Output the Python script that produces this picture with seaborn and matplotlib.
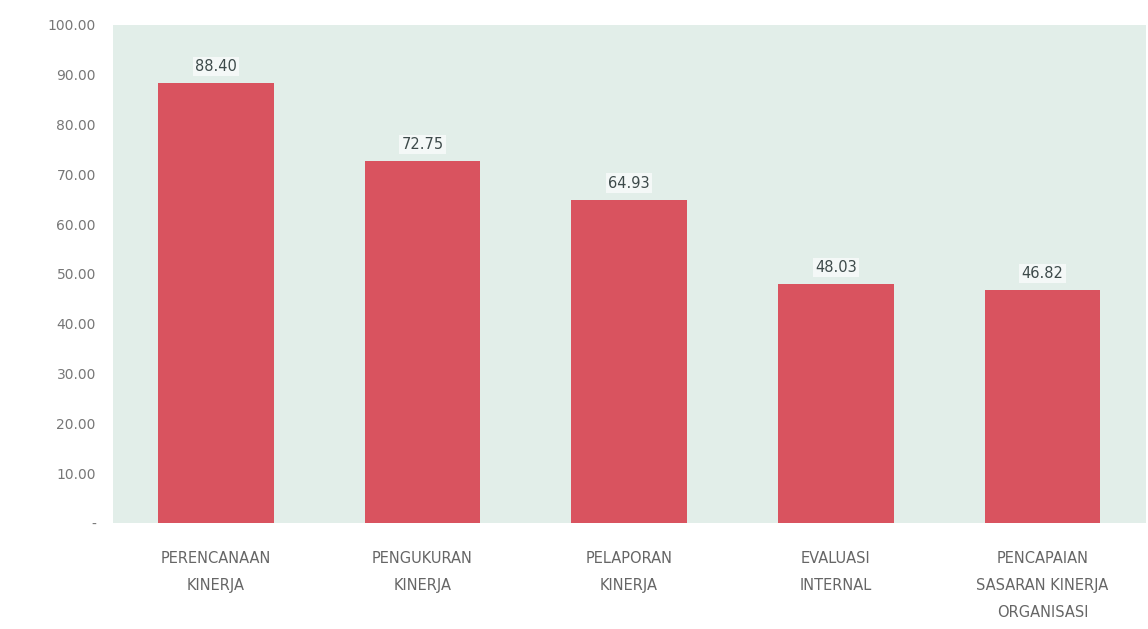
import pandas as pd
import seaborn as sns
import matplotlib.pyplot as plt
from matplotlib.ticker import FuncFormatter

sns.set_style('white')
plt.rcParams['font.family'] = ['DejaVu Sans']

kategori = ['PERENCANAAN\nKINERJA', 'PENGUKURAN\nKINERJA', 'PELAPORAN\nKINERJA',
            'EVALUASI\nINTERNAL', 'PENCAPAIAN\nSASARAN KINERJA\nORGANISASI']
nilai = [88.40, 72.75, 64.93, 48.03, 46.82]
yticks = [0, 10, 20, 30, 40, 50, 60, 70, 80, 90, 100]

df = pd.DataFrame({'kategori': kategori, 'nilai': nilai})

fig = plt.figure(figsize=(11.48, 6.29), dpi=100)
ax = fig.add_axes([0.098, 1 - 523 / 629, 0.9, (523 - 25) / 629])
ax.set_facecolor('#e2eee9')

sns.barplot(data=df, x='kategori', y='nilai', color='#d9535f', saturation=1,
            width=0.56, linewidth=0, ax=ax)

for i, v in enumerate(nilai):
    ax.text(i, v + 1.8, f'{v:.2f}', ha='center', va='bottom', fontsize=10.5,
            color='#3d4a4a',
            bbox=dict(boxstyle='square,pad=0.15', fc='#f4f8f7', ec='none'))

ax.set_ylim(0, 100)
ax.set_xlim(-0.5, 4.5)
ax.set_yticks(yticks)
ax.yaxis.set_major_formatter(FuncFormatter(lambda v, p: '-' if v == 0 else f'{v:.2f}'))
ax.tick_params(axis='y', labelsize=10, labelcolor='#777777', length=0, pad=12)
ax.tick_params(axis='x', labelsize=10.5, labelcolor='#666666', length=0, pad=20)
for t in ax.get_xticklabels():
    t.set_linespacing(2.0)
ax.set_xlabel('')
ax.set_ylabel('')
for s in ax.spines.values():
    s.set_visible(False)

plt.savefig('out.png', dpi=100)
